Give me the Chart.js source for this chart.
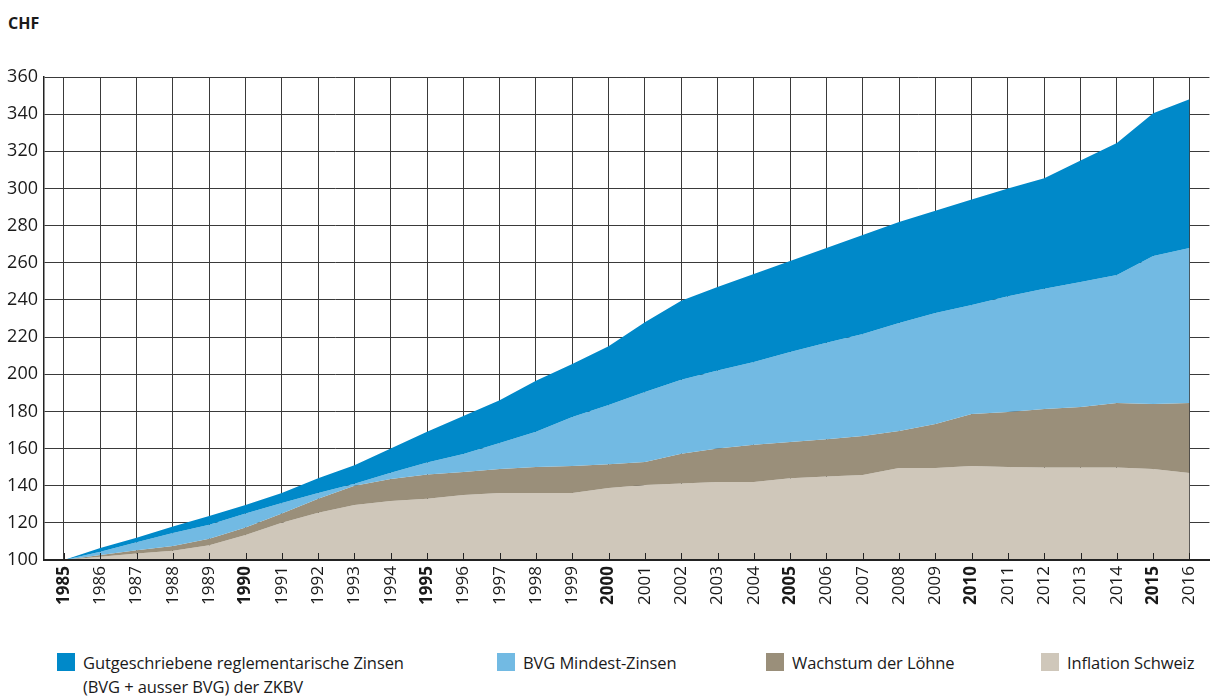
<!DOCTYPE html>
<html>
<head>
<meta charset="utf-8">
<script src="https://cdn.jsdelivr.net/npm/chart.js@4.4.1/dist/chart.umd.min.js"></script>
<style>
  body { margin: 0; background: #fff; font-family: 'Open Sans', sans-serif; color: #1a1a1a; }
  #wrap { position: relative; width: 1216px; height: 700px; }
  #unit { position: absolute; left: 8px; top: 12px; font-weight: bold; font-size: 16px; }
  canvas { position: absolute; left: 0; top: 0; }
  .lg { position: absolute; top: 651px; font-size: 16.5px; line-height: 24px; letter-spacing: -0.1px; }
  .lg i { position: absolute; left: -26px; top: 2px; width: 18px; height: 18px; }
</style>
</head>
<body>
<div id="wrap">
  <div id="unit">CHF</div>
  <canvas id="c" width="1216" height="640"></canvas>
  <div class="lg" style="left:83px"><i style="background:#0089c9"></i>Gutgeschriebene reglementarische Zinsen<br>(BVG + ausser BVG) der ZKBV</div>
  <div class="lg" style="left:523px"><i style="background:#72bae3"></i>BVG Mindest-Zinsen</div>
  <div class="lg" style="left:792px"><i style="background:#9a8f7a"></i>Wachstum der Löhne</div>
  <div class="lg" style="left:1067px"><i style="background:#cfc7ba"></i>Inflation Schweiz</div>
</div>
<script>
const years = [1985, 1986, 1987, 1988, 1989, 1990, 1991, 1992, 1993, 1994, 1995, 1996, 1997, 1998, 1999, 2000,
  2001, 2002, 2003, 2004, 2005, 2006, 2007, 2008, 2009, 2010, 2011, 2012, 2013, 2014, 2015, 2016]

// Gutgeschriebene reglementarische Zinsen (Gesamtlinie)
const zinsenZkbv = [100, 106.5, 112, 118, 123.7, 129.6, 136, 144, 151, 160, 169, 177.5, 186, 196.5, 205.5, 215,
  228, 239.5, 247, 254, 261, 268, 275, 282, 288, 294, 300, 305.5, 315, 324.5, 340.5, 348]
const bvgMindest = [100, 104.5, 109.5, 114.5, 119, 125, 130.7, 136, 141, 147, 152.5, 157, 163, 169, 177, 183.5,
  190.5, 197, 202, 206.6, 212, 217, 221.7, 227.6, 233, 237.3, 242, 246, 249.7, 253.4, 263.7, 268]
const loehne = [100, 102.7, 105.2, 107.5, 111.5, 117.5, 125, 133, 140, 143.6, 146, 147.4, 149, 150, 150.6, 151.5,
  152.8, 157.2, 160, 162, 163.5, 165, 166.8, 169.5, 173.2, 178.6, 179.7, 181.3, 182.4, 184.5, 184, 184.5]
const inflation = [100, 101.8, 103.5, 105, 108, 113.5, 120, 125.5, 129.6, 131.8, 133, 135, 136, 136, 136, 138.8,
  140.4, 141.2, 142, 142, 144, 145, 145.7, 149.5, 149.5, 150.6, 150, 149.8, 149.8, 149.8, 149, 146.8]

const toPoints = arr => arr.map((v, i) => ({ x: years[i], y: v }))

const innerTicks = {
  id: 'innerTicks',
  afterDatasetsDraw(chart) {
    const { ctx, chartArea } = chart
    const xs = chart.scales.x
    ctx.save()
    ctx.strokeStyle = '#222'
    ctx.lineWidth = 1
    ctx.beginPath()
    years.forEach(y => {
      const px = Math.round(xs.getPixelForValue(y)) + 0.5
      ctx.moveTo(px, chartArea.bottom - 7)
      ctx.lineTo(px, chartArea.bottom)
    })
    ctx.stroke()
    ctx.lineWidth = 2
    ctx.beginPath()
    ctx.moveTo(chartArea.left, chartArea.bottom)
    ctx.lineTo(chartArea.right, chartArea.bottom)
    ctx.stroke()
    ctx.restore()
  }
}

new Chart(document.getElementById('c'), {
  type: 'line',
  data: {
    datasets: [
      { data: toPoints(zinsenZkbv), backgroundColor: '#0089c9', fill: '+1' },
      { data: toPoints(bvgMindest), backgroundColor: '#72bae3', fill: '+1' },
      { data: toPoints(loehne), backgroundColor: '#9a8f7a', fill: '+1' },
      { data: toPoints(inflation), backgroundColor: '#cfc7ba', fill: 'start' }
    ]
  },
  options: {
    responsive: false,
    animation: false,
    devicePixelRatio: 1,
    layout: { padding: { top: 77, right: 6, left: 0, bottom: 0 } },
    elements: { line: { borderWidth: 0, tension: 0 }, point: { radius: 0 } },
    plugins: { legend: { display: false }, tooltip: { enabled: false } },
    scales: {
      x: {
        type: 'linear',
        min: 1984.45,
        max: 2016.55,
        afterBuildTicks: s => { s.ticks = years.map(v => ({ value: v })) },
        afterFit: s => { s.height = 80 },
        grid: { color: '#3a3a3a', lineWidth: 1, drawTicks: false },
        border: { color: '#222', width: 2 },
        ticks: {
          minRotation: 90,
          maxRotation: 90,
          padding: 6,
          color: '#1a1a1a',
          callback: v => String(v),
          font: ctx => ({
            family: "'Open Sans', sans-serif",
            size: 17,
            weight: ctx.tick && ctx.tick.value % 5 === 0 ? 'bold' : 'normal'
          })
        }
      },
      y: {
        min: 100,
        max: 360,
        afterFit: s => { s.width = 44 },
        grid: { color: '#3a3a3a', lineWidth: 1, drawTicks: false },
        border: { color: '#222', width: 1.5 },
        ticks: {
          stepSize: 20,
          padding: 6,
          color: '#1a1a1a',
          font: { family: "'Open Sans', sans-serif", size: 18 }
        }
      }
    }
  },
  plugins: [innerTicks]
})
</script>
</body>
</html>
